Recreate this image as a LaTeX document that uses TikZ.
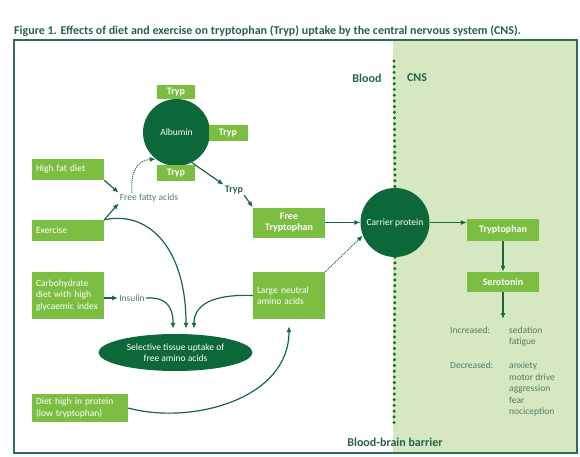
\documentclass[tikz,border=0pt]{standalone}
\usepackage{fontspec}
\setmainfont{Carlito}
\usetikzlibrary{shapes.geometric,arrows.meta}
\definecolor{boxgreen}{RGB}{124,190,66}
\definecolor{darkgreen}{RGB}{12,104,56}
\definecolor{linegreen}{RGB}{22,104,66}
\definecolor{labelgreen}{RGB}{38,98,76}
\definecolor{textgreen}{RGB}{78,124,104}
\definecolor{cnsgreen}{RGB}{214,232,193}
\definecolor{framegreen}{RGB}{48,110,84}
\begin{document}
\begin{tikzpicture}[x=1pt, y=-1pt, >={Latex[length=6pt,width=5pt]},
    box/.style={fill=boxgreen, text=white, inner xsep=4pt, inner ysep=0pt, text width=#1, align=left, font=\fontsize{9.5}{11.5}\selectfont},
    tbox/.style={fill=boxgreen, text=white, inner sep=0pt, align=center, font=\bfseries\fontsize{10}{11.5}\selectfont},
    ball/.style={circle, fill=darkgreen, text=white, inner sep=0pt, minimum size=#1, font=\fontsize{9.5}{11.5}\selectfont},
    lbl/.style={text=textgreen, inner sep=1pt, font=\fontsize{9.5}{11.5}\selectfont},
    blbl/.style={text=labelgreen, inner sep=1pt, font=\bfseries\fontsize{12}{14}\selectfont},
    arr/.style={->, draw=linegreen, line width=1.2pt},
    dotarr/.style={->, draw=linegreen, line width=1pt, densely dotted},
    barrier/.style={draw=darkgreen, line width=3.3pt, line cap=round, dash pattern=on 0pt off 5.7pt}]
  \useasboundingbox (0,0) rectangle (580,457);

  % fond CNS et cadre
  \fill[cnsgreen] (393,40) rectangle (577,453);
  \draw[framegreen, line width=1.5pt] (14,40) rectangle (577,453);

  \node[anchor=west, text=labelgreen, inner sep=0pt, font=\bfseries\fontsize{12}{14}\selectfont] (0) at (14,31) {Figure 1. Effects of diet and exercise on tryptophan (Tryp) uptake by the central nervous system (CNS).};

  \node[ball=67] (1) at (176.5,132.5) {Albumin};
  \node[tbox, minimum width=38pt, minimum height=14pt] (2) at (176,92) {Tryp};
  \node[tbox, minimum width=39pt, minimum height=16pt] (3) at (228,133) {Tryp};
  \node[tbox, minimum width=38pt, minimum height=16pt] (4) at (176,173) {Tryp};
  \node[box=64pt, minimum height=21pt] (5) at (68,169.5) {High fat diet};
  \node[box=64pt, minimum height=21pt] (6) at (68,230.5) {Exercise};
  \node[lbl] (7) at (149,198) {Free fatty acids};
  \node[blbl, font=\bfseries\fontsize{10}{12}\selectfont] (8) at (234,190) {Tryp};
  \node[tbox, minimum width=72pt, minimum height=30pt] (9) at (289,222.5) {Free\\Tryptophan};
  \node[ball=69] (10) at (395,222.5) {Carrier protein};
  \node[tbox, minimum width=72pt, minimum height=22pt] (11) at (503,230) {Tryptophan};
  \node[tbox, minimum width=72pt, minimum height=20pt] (12) at (503,282) {Serotonin};
  \node[box=64pt, minimum height=47pt] (13) at (68,295.5) {Carbohydrate\\diet with high\\glycaemic index};
  \node[lbl] (14) at (132,298) {Insulin};
  \node[ellipse, fill=darkgreen, text=white, inner sep=0pt, minimum width=154pt, minimum height=37pt, align=center, font=\fontsize{9.5}{11.5}\selectfont] (15) at (175.5,352.5) {Selective tissue uptake of\\free amino acids};
  \node[box=64pt, minimum height=47pt] (16) at (289,295.5) {Large neutral\\amino acids};
  \node[box=88pt, minimum height=28pt] (17) at (80,408) {Diet high in protein\\(low tryptophan)};
  \node[blbl] (18) at (367,78) {Blood};
  \node[blbl] (19) at (417,78) {CNS};
  \node[blbl] (20) at (395,442) {Blood-brain barrier};
  \node[lbl, anchor=north west, inner sep=0pt] (21) at (450,325) {%
    \begin{tabular}{@{}p{59pt}@{}l@{}}
      Increased: & sedation\\
                 & fatigue\\[12.5pt]
      Decreased: & anxiety\\
                 & motor drive\\
                 & aggression\\
                 & fear\\
                 & nociception
    \end{tabular}};

  \coordinate (b1) at (394,61);
  \coordinate (b2) at (394,428);
  \coordinate (c1) at (503,319);

  \draw[barrier] (b1) -- (10.north);
  \draw[barrier] (10.south) -- (b2);

  \draw[arr] (5.south east) -- (7.north west);
  \draw[arr] (6.north east) -- (7.south west);
  \draw[dotarr] ([xshift=-17pt]7.north) .. controls (130,168) and (140,160) .. (1.232);
  \draw[arr] (1.297) -- (8.north west);
  \draw[arr] (8.south east) -- (9.north west);
  \draw[arr] (9.east) -- (10.west);
  \draw[arr] (10.east) -- (10.east -| 11.west);
  \draw[arr] (11) -- (12);
  \draw[arr] (12) -- (c1);
  \draw[arr] (14.west -| 13.east) -- (14.west);
  \draw[arr, shorten >=5pt] (14.east) .. controls (165,297) and (173,305) .. ([xshift=-2.5pt]15.north);
  \draw[arr, shorten >=5pt] (6.north east) .. controls (150,210) and (186,250) .. ([xshift=10.5pt]15.north);
  \draw[arr, shorten >=5pt] (16.west) .. controls (212,294) and (194,305) .. ([xshift=18.5pt]15.north);
  \draw[arr, shorten >=7pt] (17.east) .. controls (190,425) and (289,400) .. (16.south);
  \draw[dotarr] (16.north east) -- (10.202);
\end{tikzpicture}
\end{document}
